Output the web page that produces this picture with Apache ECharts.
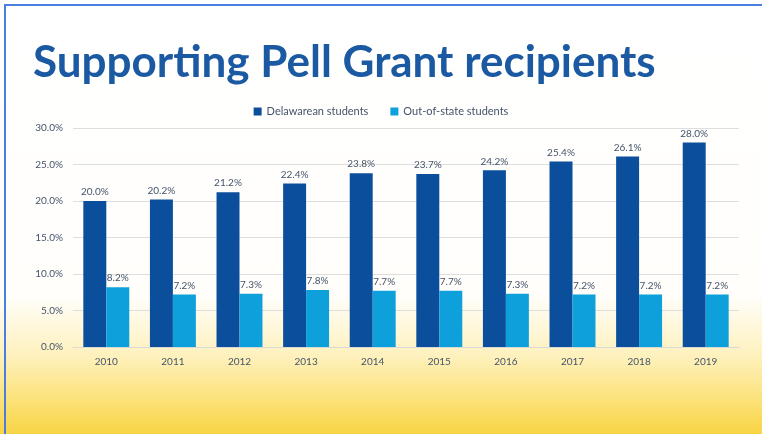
<!DOCTYPE html>
<html><head><meta charset="utf-8">
<script src="https://cdn.jsdelivr.net/npm/echarts@6/dist/echarts.min.js"></script>
<style>html,body{margin:0;padding:0;background:#fff}#c{width:762px;height:434px}</style>
</head><body><div id="c"></div>
<script>
const titleText = 'Supporting Pell Grant recipients';
const categories = ['2010','2011','2012','2013','2014','2015','2016','2017','2018','2019'];
const seriesNames = ['Delawarean students','Out-of-state students'];
const delaware = [20.0, 20.2, 21.2, 22.4, 23.8, 23.7, 24.2, 25.4, 26.1, 28.0];
const outOfState = [8.2, 7.2, 7.3, 7.8, 7.7, 7.7, 7.3, 7.2, 7.2, 7.2];
const yTicks = {min: 0, max: 30, interval: 5};

const txt = '#44546a';
const chart = echarts.init(document.getElementById('c'), null, {renderer: 'canvas'});
chart.setOption({
  animation: false,
  graphic: [
    {type: 'rect', z: -10, silent: true, shape: {x: 0, y: 0, width: 762, height: 434},
     style: {fill: new echarts.graphic.LinearGradient(0, 0, 0, 1, [
       {offset: 0, color: '#ffffff'},
       {offset: 0.68, color: '#fffefb'},
       {offset: 0.82, color: '#fef1bd'},
       {offset: 0.92, color: '#fce27a'},
       {offset: 1, color: '#f8d444'}
     ])}},
    {type: 'rect', z: -5, silent: true, shape: {x: 5, y: 5, width: 900, height: 600},
     style: {fill: null, stroke: '#4a7fe0', lineWidth: 2}},
    {type: 'text', left: 33, top: 41, silent: true,
     style: {text: titleText, font: 'bold 44px Lato', fill: '#1b5aa2'}}
  ],
  legend: {
    top: 101, left: 'center', itemWidth: 8, itemHeight: 8, itemGap: 22,
    icon: 'rect',
    textStyle: {color: txt, fontSize: 11, fontFamily: 'Lato'},
    data: seriesNames
  },
  grid: {left: 73, right: 23, top: 128, bottom: 87, containLabel: false},
  xAxis: {
    type: 'category', data: categories,
    axisLine: {lineStyle: {color: '#d9d9d9'}},
    axisTick: {show: false},
    axisLabel: {color: txt, fontSize: 10, fontFamily: 'Lato', margin: 10}
  },
  yAxis: {
    type: 'value', min: yTicks.min, max: yTicks.max, interval: yTicks.interval,
    axisLine: {show: false}, axisTick: {show: false},
    splitLine: {lineStyle: {color: '#dedede'}},
    axisLabel: {color: txt, fontSize: 10, fontFamily: 'Lato', margin: 10,
      formatter: v => v.toFixed(1) + '%'}
  },
  series: [
    {name: seriesNames[0], type: 'bar', data: delaware, barGap: '0%', barCategoryGap: '31%',
     itemStyle: {color: '#0b4f9c'},
     label: {show: true, position: 'top', distance: 4, color: txt, fontSize: 10, fontFamily: 'Lato',
       formatter: p => p.value.toFixed(1) + '%'}},
    {name: seriesNames[1], type: 'bar', data: outOfState, barGap: '0%', barCategoryGap: '31%',
     itemStyle: {color: '#0ea0da'},
     label: {show: true, position: 'top', distance: 4, color: txt, fontSize: 10, fontFamily: 'Lato',
       formatter: p => p.value.toFixed(1) + '%'}}
  ]
});
</script></body></html>
